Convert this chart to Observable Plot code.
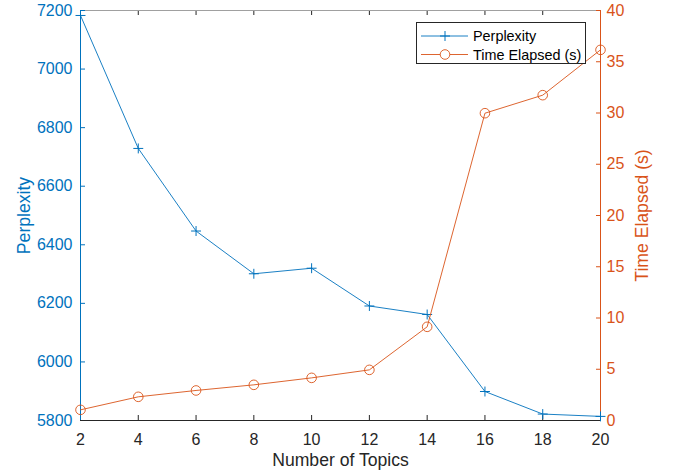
<!DOCTYPE html>
<html><head><meta charset="utf-8">
<script src="https://cdn.jsdelivr.net/npm/d3@7"></script>
<script src="https://cdn.jsdelivr.net/npm/@observablehq/plot@0.6"></script>
<style>
body{margin:0;background:#fff;}
#wrap{position:relative;width:678px;height:475px;font-family:"Liberation Sans",Arial,sans-serif;}
#legend{position:absolute;left:416px;top:22px;width:170px;height:42px;border:1px solid #262626;background:#fff;box-sizing:border-box;}
</style></head><body><div id="wrap"></div>
<script>
const topics = [2, 4, 6, 8, 10, 12, 14, 16, 18, 20];
const perplexity = [7183, 6729, 6447, 6301, 6320, 6191, 6162, 5899, 5822, 5814];
const timeElapsed = [1.04, 2.31, 2.93, 3.48, 4.16, 4.94, 9.14, 29.98, 31.74, 36.16];
const xTicks = [2, 4, 6, 8, 10, 12, 14, 16, 18, 20];
const leftTicks = [5800, 6000, 6200, 6400, 6600, 6800, 7000, 7200];
const rightTicks = [0, 5, 10, 15, 20, 25, 30, 35, 40];
const seriesNames = ["Perplexity", "Time Elapsed (s)"];
const xLabel = "Number of Topics";
const leftLabel = "Perplexity";
const rightLabel = "Time Elapsed (s)";

const blue = "#0072BD", orange = "#D95319", dark = "#262626";
const font = '"Liberation Sans", Arial, sans-serif';
const pLo = leftTicks[0], pHi = leftTicks[leftTicks.length - 1];
const tLo = rightTicks[0], tHi = rightTicks[rightTicks.length - 1];
const toLeft = t => pLo + (t - tLo) * (pHi - pLo) / (tHi - tLo);
const toRight = v => tLo + (v - pLo) * (tHi - tLo) / (pHi - pLo);

const rows = topics.map((k, i) => ({k, p: perplexity[i], t: timeElapsed[i]}));

const chart = Plot.plot({
  width: 678, height: 475,
  marginLeft: 80, marginRight: 78, marginTop: 10, marginBottom: 55,
  style: {fontFamily: font, fontSize: "16px", background: "#fff", overflow: "visible"},
  x: {domain: [xTicks[0], xTicks[xTicks.length - 1]]},
  y: {domain: [pLo, pHi]},
  marks: [
    Plot.ruleY([pHi], {stroke: "#a0a0a0"}),
    Plot.axisX({anchor: "top", ticks: xTicks, tickSize: -4, tickFormat: () => "", label: null, stroke: dark}),
    Plot.axisX({anchor: "bottom", ticks: xTicks, tickSize: -5, tickPadding: 18, stroke: dark, fill: dark, fontSize: 16, label: null, tickFormat: d => String(d)}),
    Plot.axisY({anchor: "left", ticks: leftTicks, tickSize: -5, tickPadding: 13, stroke: blue, fill: blue, fontSize: 16, label: null, tickFormat: d => String(d)}),
    Plot.axisY({anchor: "right", ticks: rightTicks.map(toLeft), tickSize: -5, tickPadding: 11, stroke: orange, fill: orange, fontSize: 16, label: null, tickFormat: v => String(Math.round(toRight(v)))}),
    Plot.ruleX([xTicks[0]], {stroke: blue}),
    Plot.ruleX([xTicks[xTicks.length - 1]], {stroke: orange}),
    Plot.ruleY([pLo], {stroke: dark}),
    Plot.line(rows, {x: "k", y: "p", stroke: blue, strokeWidth: 0.9}),
    Plot.dot(rows, {x: "k", y: "p", symbol: "plus", r: 3.3, stroke: blue, strokeWidth: 1}),
    Plot.line(rows, {x: "k", y: d => toLeft(d.t), stroke: orange, strokeWidth: 0.9}),
    Plot.dot(rows, {x: "k", y: d => toLeft(d.t), symbol: "circle", r: 4.8, stroke: orange, fill: "none", strokeWidth: 0.9}),
    Plot.text([leftLabel], {text: d => d, frameAnchor: "left", dx: -63, rotate: -90, textAnchor: "middle", lineAnchor: "top", fill: blue, fontSize: 17.6}),
    Plot.text([rightLabel], {text: d => d, frameAnchor: "right", dx: 35, rotate: -90, textAnchor: "middle", lineAnchor: "top", fill: orange, fontSize: 17.6}),
    Plot.text([xLabel], {text: d => d, frameAnchor: "bottom", dy: 33, textAnchor: "middle", lineAnchor: "top", fill: dark, fontSize: 17.6})
  ]
});
const wrap = document.getElementById("wrap");
wrap.appendChild(chart);

// legend overlay
const legend = document.createElement("div");
legend.id = "legend";
const colors = [blue, orange];
const symbols = ["plus", "circle"];
let svg = '<svg width="168" height="40" xmlns="http://www.w3.org/2000/svg" style="font-family:' + font.replace(/"/g, "'") + ';font-size:14.4px">';
seriesNames.forEach((name, i) => {
  const cy = 13 + i * 18.5;
  svg += '<line x1="4" x2="51" y1="' + cy + '" y2="' + cy + '" stroke="' + colors[i] + '" stroke-width="0.9"/>';
  if (symbols[i] === "plus") {
    svg += '<path d="M23,' + cy + 'h10M28,' + (cy - 5) + 'v10" stroke="' + colors[i] + '" fill="none"/>';
  } else {
    svg += '<circle cx="28" cy="' + cy + '" r="4.8" stroke="' + colors[i] + '" stroke-width="0.9" fill="#fff"/>';
  }
  svg += '<text x="56" y="' + cy + '" dy="0.35em" fill="#000">' + name + '</text>';
});
svg += '</svg>';
legend.innerHTML = svg;
wrap.appendChild(legend);
</script></body></html>
